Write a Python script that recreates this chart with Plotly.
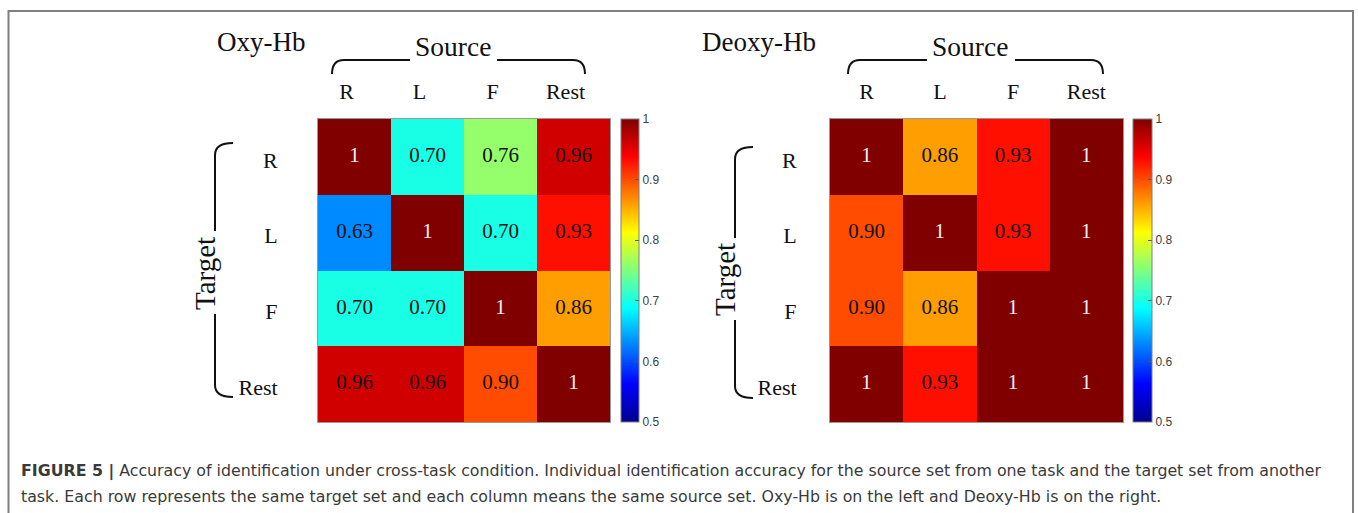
import plotly.graph_objects as go

W, H = 1358, 513

# ---------------- data ----------------
sources = ["R", "L", "F", "Rest"]
targets = ["R", "L", "F", "Rest"]
oxy_values = [
    [1.00, 0.70, 0.76, 0.96],
    [0.63, 1.00, 0.70, 0.93],
    [0.70, 0.70, 1.00, 0.86],
    [0.96, 0.96, 0.90, 1.00],
]
deoxy_values = [
    [1.00, 0.86, 0.93, 1.00],
    [0.90, 1.00, 0.93, 1.00],
    [0.90, 0.86, 1.00, 1.00],
    [1.00, 0.93, 1.00, 1.00],
]
cbar_ticks = [0.5, 0.6, 0.7, 0.8, 0.9, 1.0]
cbar_ticktext = ["0.5", "0.6", "0.7", "0.8", "0.9", "1"]
caption_1 = ("<b>FIGURE 5 |</b> Accuracy of identification under cross-task condition. "
             "Individual identification accuracy for the source set from one task and the target set from another")
caption_2 = ("task. Each row represents the same target set and each column means the same source set. "
             "Oxy-Hb is on the left and Deoxy-Hb is on the right.")

# MATLAB jet colormap
jet = [
    [0.0, "rgb(0,0,143)"],
    [0.125, "rgb(0,0,255)"],
    [0.375, "rgb(0,255,255)"],
    [0.625, "rgb(255,255,0)"],
    [0.875, "rgb(255,0,0)"],
    [1.0, "rgb(128,0,0)"],
]

SERIF = "Liberation Serif, Times New Roman, serif"
SANS = "Liberation Sans, Arial, sans-serif"
CAPTION_FONT = "DejaVu Sans, Liberation Sans, sans-serif"


def px(x):
    return x / W


def py(y):
    return 1 - y / H


fig = go.Figure()

panels = [
    dict(vals=oxy_values, xa="x", ya="y", xname="xaxis", yname="yaxis",
         left=318, right=610, cb_left=621, cb_w=18, ystand=35, xshift=-8),
    dict(vals=deoxy_values, xa="x2", ya="y2", xname="xaxis2", yname="yaxis2",
         left=830, right=1123, cb_left=1133, cb_w=19, ystand=28, xshift=0),
]
TOP, BOTTOM = 119, 422

for p in panels:
    vals = p["vals"]
    fig.add_trace(go.Heatmap(
        z=vals, x=sources, y=targets, xaxis=p["xa"], yaxis=p["ya"],
        colorscale=jet, zmin=0.5, zmax=1.0, hoverinfo="skip",
        colorbar=dict(
            x=px(p["cb_left"]), xanchor="left", xpad=0,
            y=py(TOP), yanchor="top", ypad=0,
            len=(BOTTOM - TOP) / H, lenmode="fraction",
            thickness=p["cb_w"], thicknessmode="pixels",
            outlinecolor="#7f7f7f", outlinewidth=1,
            tickvals=cbar_ticks, ticktext=cbar_ticktext,
            ticks="inside", ticklen=4, tickcolor="#555555",
            tickfont=dict(family=SANS, size=12, color="#404040"),
        ),
    ))
    xs, ys, txt, cols = [], [], [], []
    for i, t in enumerate(targets):
        for j, s in enumerate(sources):
            v = vals[i][j]
            xs.append(s)
            ys.append(t)
            txt.append("1" if v == 1 else f"{v:.2f}")
            cols.append("#f2f2f2" if v == 1 else "#111111")
    fig.add_trace(go.Scatter(
        x=xs, y=ys, text=txt, mode="text", xaxis=p["xa"], yaxis=p["ya"],
        textfont=dict(family=SERIF, size=21, color=cols),
        hoverinfo="skip", showlegend=False,
    ))
    fig.layout[p["xname"]] = dict(
        domain=[px(p["left"]), px(p["right"])], anchor=p["ya"], side="top",
        type="category", categoryorder="array", categoryarray=sources,
        showgrid=False, zeroline=False, ticks="",
        showline=True, mirror=True, linecolor="#9a9a9a", linewidth=1,
        tickfont=dict(family=SERIF, size=22, color="#111111"),
        ticklabelstandoff=10, ticklabelshift=p["xshift"],
        fixedrange=True,
    )
    fig.layout[p["yname"]] = dict(
        domain=[py(BOTTOM), py(TOP)], anchor=p["xa"],
        type="category", categoryorder="array", categoryarray=targets,
        autorange="reversed",
        showgrid=False, zeroline=False, ticks="",
        showline=True, mirror=True, linecolor="#9a9a9a", linewidth=1,
        tickfont=dict(family=SERIF, size=22, color="#111111"),
        ticklabelstandoff=p["ystand"], ticklabelshift=-3,
        fixedrange=True,
    )

shapes = []
LINE = dict(color="#111111", width=2)


def path(d):
    pts = []
    for tok in d.split():
        if "," in tok:
            a, b = tok.split(",")
            pts.append(f"{px(float(a)):.5f},{py(float(b)):.5f}")
        else:
            pts.append(tok)
    return " ".join(pts)


# Source brackets (top) and Target brackets (left)
for (l, ls, rs, r) in [(332, 410, 497, 585), (848, 927, 1015, 1103)]:
    shapes.append(dict(type="path", xref="paper", yref="paper", line=LINE,
                       path=path(f"M {l},74 Q {l},60 {l+12},60 L {ls},60")))
    shapes.append(dict(type="path", xref="paper", yref="paper", line=LINE,
                       path=path(f"M {rs},60 L {r-12},60 Q {r},60 {r},74")))
for (x, t, g1, g2, b) in [(215, 143, 231, 314, 397), (735, 147, 238, 320, 398)]:
    shapes.append(dict(type="path", xref="paper", yref="paper", line=LINE,
                       path=path(f"M {x+18},{t} Q {x},{t} {x},{t+12} L {x},{g1}")))
    shapes.append(dict(type="path", xref="paper", yref="paper", line=LINE,
                       path=path(f"M {x},{g2} L {x},{b-12} Q {x},{b} {x+18},{b}")))

# figure frame
shapes.append(dict(type="rect", xref="paper", yref="paper",
                   x0=px(8.5), x1=px(1353), y0=py(540), y1=py(11),
                   line=dict(color="#808080", width=2)))

ann = []


def text(x, y, s, size, family=SERIF, color="#111111", angle=0, xanchor="center"):
    ann.append(dict(x=px(x), y=py(y), xref="paper", yref="paper", text=s,
                    showarrow=False, xanchor=xanchor, yanchor="middle",
                    textangle=angle, font=dict(family=family, size=size, color=color)))


text(261, 42, "Oxy-Hb", 27)
text(759, 42, "Deoxy-Hb", 27)
text(453, 46, "Source", 27.5)
text(970, 46, "Source", 27.5)
text(205, 274, "Target", 29, angle=-90)
text(725, 280, "Target", 29, angle=-90)
text(19, 471, caption_1, 15.8, family=CAPTION_FONT, color="#3a3a3a", xanchor="left")
text(19, 496, caption_2, 15.8, family=CAPTION_FONT, color="#3a3a3a", xanchor="left")

fig.update_layout(
    width=W, height=H, margin=dict(l=0, r=0, t=0, b=0),
    paper_bgcolor="white", plot_bgcolor="white",
    showlegend=False, shapes=shapes, annotations=ann,
)

fig.write_html("out.html")
